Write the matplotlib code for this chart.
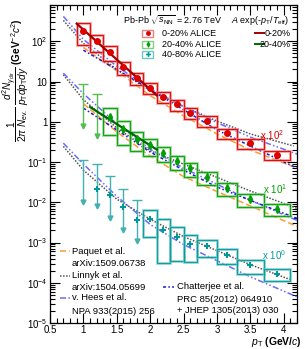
import math
import matplotlib
matplotlib.use('Agg')
import matplotlib.pyplot as plt
from matplotlib.patches import Rectangle
from matplotlib.ticker import MultipleLocator, LogLocator, FixedLocator, FuncFormatter, NullFormatter

plt.rcParams['font.family'] = 'Liberation Sans'
plt.rcParams['mathtext.fontset'] = 'custom'
plt.rcParams['mathtext.rm'] = 'Liberation Sans'
plt.rcParams['mathtext.it'] = 'Liberation Sans:italic'
plt.rcParams['mathtext.bf'] = 'Liberation Sans:bold'

# pT bins (GeV/c)
pt_edges = [0.9, 1.1, 1.3, 1.5, 1.7, 1.9, 2.1, 2.3, 2.5, 2.7, 3.0, 3.3, 3.7, 4.1]
pt = [1.0, 1.2, 1.4, 1.6, 1.8, 2.0, 2.2, 2.4, 2.6, 2.85, 3.15, 3.5, 3.9]

# ALICE direct photon yields (unscaled) and relative systematic uncertainties
y_020 = [1.82, 1.00, 0.54, 0.23, 0.126, 0.071, 0.042, 0.027, 0.0166, 0.0105, 0.0052, 0.0029, 0.0015]
sys_020 = [0.55, 0.45, 0.40, 0.36, 0.33, 0.30, 0.30, 0.30, 0.30, 0.30, 0.30, 0.26, 0.25]

y_2040 = [0.132, 0.066, 0.0374, 0.026, 0.0168, 0.0105, 0.0070, 0.00427, 0.00224, 0.0012, 0.00069]
sys_2040 = [0.65, 0.60, 0.50, 0.45, 0.40, 0.38, 0.38, 0.36, 0.35, 0.35, 0.35]
pt_ul_2040 = [1.0, 1.2]
ul_2040 = [0.88, 0.50]

y_4080 = [0.0219, 0.0148, 0.0076, 0.00355, 0.0039, 0.00205, 0.00138, 0.00093, 0.00081,
          0.00048, 0.00027, 0.000166]
sys_4080 = [0.65, 0.85, 0.75, 0.65, 0.45, 0.40, 0.40, 0.35]  # from pT = 2.0 on
pt_ul_4080 = [1.0, 1.2, 1.4, 1.6, 1.8]
ul_4080 = [0.115, 0.089, 0.045, 0.022, 0.0117]

scales = [100, 10, 1]

# exponential fits A exp(-pT/Teff), end points
fit_pt_020 = [0.9, 2.1]
fit_y_020 = [2.75, 0.0454]
fit_pt_2040 = [1.1, 2.1]
fit_y_2040 = [0.233, 0.0204]

# model calculations (unscaled)
paquet_pt_020 = [1.0, 1.25, 1.5, 2.0, 2.5, 3.0, 3.5, 4.15]
paquet_020 = [0.708, 0.355, 0.186, 0.0447, 0.0141, 0.00501, 0.0020, 0.00076]
linnyk_pt_020 = [0.7, 1.0, 1.5, 2.0, 2.5, 3.0, 3.5, 4.15]
linnyk_020 = [3.31, 0.891, 0.20, 0.0603, 0.0240, 0.0105, 0.0050, 0.00251]
hees_pt_020 = [0.7, 1.0, 1.5, 2.0, 2.5, 3.0, 3.5, 4.2]
hees_020 = [4.17, 1.12, 0.240, 0.0661, 0.0240, 0.00955, 0.00417, 0.00158]
chat_pt_020 = [1.0, 1.5, 2.0, 2.5, 3.0, 3.5, 4.2]
chat_020 = [0.603, 0.20, 0.0631, 0.020, 0.0063, 0.00251, 0.000708]

paquet_pt_2040 = [1.0, 1.5, 2.0, 2.5, 3.0, 3.5, 4.2]
paquet_2040 = [0.282, 0.0562, 0.0141, 0.00437, 0.00186, 0.000813, 0.000251]
linnyk_pt_2040 = [0.7, 1.0, 1.5, 2.0, 2.5, 3.0, 3.5, 4.2]
linnyk_2040 = [1.48, 0.355, 0.0708, 0.0191, 0.00891, 0.00417, 0.00191, 0.000708]
hees_pt_2040 = [0.7, 1.0, 1.5, 2.0, 2.5, 3.0, 3.5, 4.2]
hees_2040 = [1.62, 0.501, 0.0891, 0.0209, 0.00708, 0.00282, 0.00112, 0.000355]
chat_pt_2040 = [1.0, 1.5, 2.0, 2.5, 3.0, 3.5, 4.2]
chat_2040 = [0.219, 0.0631, 0.0178, 0.00631, 0.0024, 0.00112, 0.000398]

linnyk_pt_4080 = [0.7, 1.0, 1.5, 2.0, 2.5, 3.0, 3.5, 4.1]
linnyk_4080 = [0.245, 0.0631, 0.0120, 0.0038, 0.00141, 0.00063, 0.000282, 0.00012]
hees_pt_4080 = [0.7, 1.0, 1.5, 2.0, 2.5, 3.0, 3.5, 4.2]
hees_4080 = [0.295, 0.0891, 0.0141, 0.00282, 0.00089, 0.000355, 0.000141, 0.0000447]

# colours
red, red_l = '#dd0000', '#f08080'
green, green_l = '#00a000', '#80d080'
cyan, cyan_l = '#009999', '#70c8c8'
c_paquet = '#ff9933'
c_linnyk = '#555555'
c_hees = '#6a6aff'
c_chat = '#1a1acc'

ls_paquet = (0, (4, 2))
ls_linnyk = (0, (1, 1))
ls_hees = (0, (4, 1.5, 1, 1.5, 1, 1.5))
ls_chat = (0, (2, 1.5, 1, 1.5))

fig = plt.figure(figsize=(3.05, 3.49), dpi=100)
ax = fig.add_axes([50 / 305, 1 - 323 / 349, 247 / 305, 318 / 349])
ax.set_yscale('log')
ax.set_xlim(0.5, 4.2)
ax.set_ylim(1e-5, 800)


def model(xs, ys, s, color, ls):
    ax.plot(xs, [v * s for v in ys], color=color, ls=ls, lw=1.1, zorder=2)


for s, grp in zip(scales, [
        [(paquet_pt_020, paquet_020, c_paquet, ls_paquet), (linnyk_pt_020, linnyk_020, c_linnyk, ls_linnyk),
         (hees_pt_020, hees_020, c_hees, ls_hees), (chat_pt_020, chat_020, c_chat, ls_chat)],
        [(paquet_pt_2040, paquet_2040, c_paquet, ls_paquet), (linnyk_pt_2040, linnyk_2040, c_linnyk, ls_linnyk),
         (hees_pt_2040, hees_2040, c_hees, ls_hees), (chat_pt_2040, chat_2040, c_chat, ls_chat)],
        [(linnyk_pt_4080, linnyk_4080, c_linnyk, ls_linnyk), (hees_pt_4080, hees_4080, c_hees, ls_hees)]]):
    for xs, ys, c, ls in grp:
        model(xs, ys, s, c, ls)


def boxes(lo, hi, vals, rel, s, dark, light):
    for a, b, v, r in zip(lo, hi, vals, rel):
        y = v * s
        for ec, lw in [(light, 2.0), (dark, 0.8)]:
            ax.add_patch(Rectangle((a, y * (1 - r)), b - a, 2 * r * y, fill=False,
                                   ec=ec, lw=lw, alpha=0.7 if lw > 1 else 0.9, zorder=3))


def upper_limits(xs, caps, s, color):
    for x, c in zip(xs, caps):
        ax.vlines(x, c * s / 11, c * s, color=color, lw=1.0, zorder=3)
        ax.plot(x, c * s, marker='_', ms=7, mew=1.0, color=color, zorder=3)
        ax.plot(x, c * s / 11, marker='v', ms=3.5, color=color, mec=color, zorder=3)


pt_lo = pt_edges[:-1]
pt_hi = pt_edges[1:]

boxes(pt_lo, pt_hi, y_020, sys_020, scales[0], red, red_l)
boxes(pt_lo[2:], pt_hi[2:], y_2040, sys_2040, scales[1], green, green_l)
boxes(pt_lo[5:], pt_hi[5:], y_4080[4:], sys_4080, scales[2], cyan, cyan_l)

upper_limits(pt_ul_2040, ul_2040, scales[1], '#55bb55')
upper_limits(pt_ul_4080, ul_4080, scales[2], '#44b0b0')

ax.plot(fit_pt_020, [v * scales[0] for v in fit_y_020], color='#a00000', lw=1.6, zorder=4)
ax.plot(fit_pt_2040, [v * scales[1] for v in fit_y_2040], color='#006400', lw=1.6, zorder=4)

ax.plot(pt, [v * scales[0] for v in y_020], 'o', color=red, ms=4, zorder=5)
ax.plot(pt[2:], [v * scales[1] for v in y_2040], 'd', color=green, ms=4, zorder=5)
ax.plot(pt[1:], [v * scales[2] for v in y_4080], 'P', color=cyan, ms=4, mew=0, zorder=5)

# axes styling
ax.xaxis.set_major_locator(FixedLocator([0.5, 1, 1.5, 2, 2.5, 3, 3.5, 4]))
ax.xaxis.set_minor_locator(MultipleLocator(0.1))
ax.xaxis.set_major_formatter(FuncFormatter(lambda v, p: f'{v:g}'))
ax.yaxis.set_major_locator(FixedLocator([1e-5, 1e-4, 1e-3, 1e-2, 1e-1, 1, 10, 100]))
ax.yaxis.set_minor_locator(LogLocator(base=10, subs=range(2, 10), numticks=20))
ax.yaxis.set_minor_formatter(NullFormatter())


def yfmt(v, p):
    e = int(round(math.log10(v)))
    if e == 0:
        return '1'
    if e == 1:
        return '10'
    return r'$10^{%d}$' % e


ax.yaxis.set_major_formatter(FuncFormatter(yfmt))
ax.tick_params(which='both', direction='in', top=True, right=True, labelsize=7, width=0.8)
ax.tick_params(which='major', length=7)
ax.tick_params(which='minor', length=3.5)
ax.tick_params(axis='x', pad=1.5)
ax.tick_params(axis='y', pad=2)
for sp in ax.spines.values():
    sp.set_linewidth(0.9)

fig.text(0.99, 1 - 342 / 349, r'$p_{\rm T}$ (GeV/$c$)', ha='right', va='center', fontsize=7.5,
         fontweight='bold')
fig.text(0.052, 1 - 80 / 349,
         r'$\dfrac{1}{2\pi\ N_{\rm ev.}}\ \dfrac{d^{2}N_{\gamma_{\rm dir}}}{p_{\rm T}dp_{\rm T}dy}$ (GeV$^{-2}c^{2}$)',
         rotation=90, ha='center', va='center', fontsize=7.2, fontweight='bold')

T = ax.transAxes


def ax_x(px):
    return (px - 50) / 247


def ax_y(py):
    return (323 - py) / 318


# top legend
ax.text(ax_x(123), ax_y(20.7), r'Pb-Pb $\sqrt{s_{\rm NN}}$ = 2.76 TeV', transform=T, fontsize=6.5,
        va='center', ha='left')
ax.text(ax_x(231), ax_y(20.7), r'$A$ exp(-$p_{\rm T}$/$T_{\rm eff}$)', transform=T, fontsize=6.5,
        va='center', ha='left')
for py, lab, dark, light, mk in [(33.3, '0-20% ALICE', red, red_l, 'o'),
                                 (44.3, '20-40% ALICE', green, green_l, 'd'),
                                 (54.3, '40-80% ALICE', cyan, cyan_l, 'P')]:
    ax.add_patch(Rectangle((ax_x(142), ax_y(py) - 0.011), 0.045, 0.022, transform=T, fill=False,
                           ec=light, lw=1.0, clip_on=False))
    ax.plot([ax_x(147.5)], [ax_y(py)], mk, color=dark, ms=3.5, mew=0, transform=T, clip_on=False)
    ax.text(ax_x(162), ax_y(py), lab, transform=T, fontsize=6.5, va='center', ha='left')
for py, lab, c in [(33.3, '0-20%', '#a00000'), (44.3, '20-40%', '#006400')]:
    ax.plot([ax_x(255), ax_x(264)], [ax_y(py)] * 2, color=c, lw=1.4, transform=T, clip_on=False)
    ax.text(ax_x(291), ax_y(py), lab, transform=T, fontsize=6.5, va='center', ha='right')

# scale labels
ax.text(ax_x(260), ax_y(135), r'x 10$^{2}$', transform=T, fontsize=7, color=red, va='center')
ax.text(ax_x(263), ax_y(189), r'x 10$^{1}$', transform=T, fontsize=7, color=green, va='center')
ax.text(ax_x(262), ax_y(255), r'x 10$^{0}$', transform=T, fontsize=7, color=cyan, va='center')

# model legends
for (py1, py2), l1, l2, c, ls in [((251, 263), 'Paquet et al.', 'arXiv:1509.06738', c_paquet, ls_paquet),
                                  ((276, 287), 'Linnyk et al.', 'arXiv:1504.05699', c_linnyk, ls_linnyk),
                                  ((298, 311), 'v. Hees et al.', 'NPA 933(2015) 256', c_hees, ls_hees)]:
    ax.plot([ax_x(60), ax_x(70)], [ax_y(py1)] * 2, color=c, ls=ls, lw=1.1, transform=T, clip_on=False)
    ax.text(ax_x(72), ax_y(py1), l1, transform=T, fontsize=6.8, va='center')
    ax.text(ax_x(72), ax_y(py2), l2, transform=T, fontsize=6.8, va='center')

ax.plot([ax_x(163), ax_x(174)], [ax_y(286.7)] * 2, color=c_chat, ls=ls_chat, lw=1.1, transform=T,
        clip_on=False)
ax.text(ax_x(177), ax_y(286.7), 'Chatterjee et al.', transform=T, fontsize=6.8, va='center')
ax.text(ax_x(177), ax_y(299), 'PRC 85(2012) 064910', transform=T, fontsize=6.8, va='center')
ax.text(ax_x(177), ax_y(310.7), '+ JHEP 1305(2013) 030', transform=T, fontsize=6.8, va='center')

fig.savefig('out.png', dpi=100)
